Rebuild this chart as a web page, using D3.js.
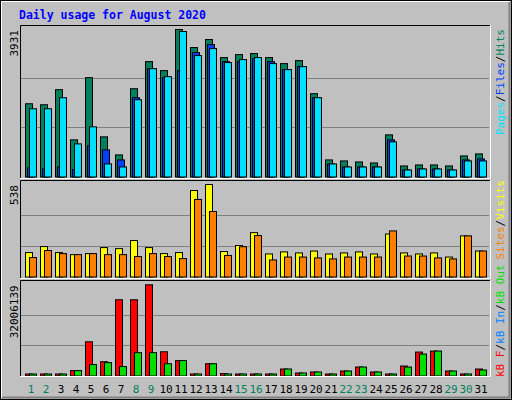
<!DOCTYPE html>
<html><head><meta charset="utf-8">
<script src="https://cdn.jsdelivr.net/npm/d3@7"></script>
<style>body{margin:0;background:#fff}svg{display:block}</style>
</head><body>
<svg id="chart" width="512" height="400"></svg>
<script>
var days = d3.range(1, 32);
var weekend = [1, 2, 8, 9, 15, 16, 22, 23, 29, 30];
var hits  = [1952,1925,2327,990,2647,1070,588,2353,3075,2835,3931,3450,3664,3182,3262,3289,3182,3022,3102,2220,455,428,401,374,1123,294,321,321,294,561,615];
var files = [240,214,267,200,829,722,455,2113,2888,2647,2835,3316,3530,3075,3075,3155,3075,2861,2941,2113,348,267,267,267,990,187,214,214,187,455,481];
var pages = [1818,1818,2113,882,1337,348,267,2059,2888,2674,3877,3236,3423,3049,3129,3182,3022,2861,2941,2113,348,267,267,267,936,187,214,214,187,428,428];
var visits = [142,177,142,130,136,171,165,212,171,136,142,503,538,148,183,258,134,146,140,151,134,140,146,134,250,140,134,140,116,239,151];
var sites  = [113,154,136,130,136,130,130,119,136,119,107,451,381,125,176,241,99,116,116,111,105,116,116,116,268,122,122,111,105,239,151];
var kbF   = [0,0,0,1.89,12.0,5.0,26.75,26.75,32.0,8.5,5.4,0,4.3,0.84,0,0.2,0.7,2.45,1.05,1.4,0,1.75,3.15,1.4,0,3.5,8.4,8.75,1.75,0.7,2.45];
var kbOut = [0,0,0,1.89,4.0,4.7,3.3,8.2,8.2,4.3,5.4,0,4.3,0.7,0,0.2,0.7,2.45,1.05,1.4,0,1.75,3.15,1.4,0,3.15,7.7,8.75,1.75,0.7,2.1];
var maxLabels = ["3931", "538", "32006139"];

var svg = d3.select("#chart");
var mono = "DejaVu Sans Mono, monospace";

// frame
svg.append("rect").attr("width", 512).attr("height", 400).attr("fill", "#c0c0c0");
svg.append("rect").attr("x", 0.5).attr("y", 0.5).attr("width", 511).attr("height", 399).attr("fill", "none").attr("stroke", "#000");
svg.append("path").attr("d", "M1.5,398V1.5H510").attr("stroke", "#fff").attr("fill", "none");
svg.append("path").attr("d", "M2,397.5H509.5V2").attr("stroke", "#808080").attr("stroke-width", 2).attr("fill", "none");

svg.append("text").attr("x", 19).attr("y", 19).attr("fill", "#0000ff")
  .attr("font-family", mono).attr("font-weight", "bold").attr("font-size", 11.5)
  .text("Daily usage for August 2020");

var x = d3.scaleBand().domain(days).range([25, 490]).paddingInner(0).align(0);
var slot = function (d) { return 25 + (d - 1) * 15; };

var panels = [
  { top: 25, bottom: 179, y0: 176.5, y1: 29, max: 3931 },
  { top: 180, bottom: 279, y0: 276.5, y1: 184, max: 538 },
  { top: 280, bottom: 377, y0: 375.5, y1: 284.3, max: 32.006139 }
];

panels.forEach(function (p, pi) {
  svg.append("rect").attr("x", 20).attr("y", p.top).attr("width", 470).attr("height", p.bottom - p.top).attr("fill", "#c0c0c0");
  p.y = d3.scaleLinear().domain([0, p.max]).range([p.y0, p.y1]);
  [p.max / 3, p.max * 2 / 3].forEach(function (v) {
    svg.append("line").attr("x1", 21).attr("x2", 489).attr("y1", Math.round(p.y(v)) + 0.5).attr("y2", Math.round(p.y(v)) + 0.5)
      .attr("stroke", "#808080");
  });
  svg.append("text").attr("transform", "translate(18," + (p.y1 + 1) + ") rotate(-90)")
    .attr("text-anchor", "end").attr("font-family", mono).attr("font-size", 11).attr("fill", "#000")
    .text(maxLabels[pi]);
});

function bars(p, data, off, color) {
  svg.append("g").selectAll("rect").data(data).enter().append("rect")
    .attr("x", function (d, i) { return slot(i + 1) + off + 0.5; })
    .attr("y", function (d) { return Math.min(p.y(d), p.y0 - 2) + 0.5; })
    .attr("width", 7)
    .attr("height", function (d) { return Math.max(p.y0 - p.y(d), 2); })
    .attr("fill", color).attr("stroke", "#000");
}

bars(panels[0], hits, 0, "#00805c");
bars(panels[0], files, 2, "#0040ff");
bars(panels[0], pages, 4, "#00e0ff");
bars(panels[1], visits, 0, "#ffff00");
bars(panels[1], sites, 4, "#ff8000");
bars(panels[2], kbF, 0, "#ff0000");
bars(panels[2], kbOut, 4, "#00e000");

// panel bevels
panels.forEach(function (p) {
  svg.append("path").attr("d", "M20.5," + (p.bottom) + "V" + (p.top + 0.5) + "H490").attr("stroke", "#000").attr("fill", "none");
  svg.append("path").attr("d", "M20," + (p.bottom - 0.5) + "H490.5V" + p.top).attr("stroke", "#fff").attr("fill", "none");
});

svg.append("g").selectAll("text").data(days).enter().append("text")
  .attr("x", function (d) { return slot(d) + 6; }).attr("y", 393)
  .attr("text-anchor", "middle").attr("font-family", mono).attr("font-size", 11)
  .attr("fill", function (d) { return weekend.indexOf(d) >= 0 ? "#00805c" : "#000"; })
  .text(function (d) { return d; });

function sideLabel(y, anchor, parts) {
  var t = svg.append("text").attr("transform", "translate(504," + y + ") rotate(-90)")
    .attr("text-anchor", anchor).attr("font-family", mono).attr("font-size", 11);
  parts.forEach(function (pt) { t.append("tspan").attr("fill", pt[1]).text(pt[0]); });
}
sideLabel(29, "end", [["Pages", "#00e0ff"], ["/", "#000"], ["Files", "#0040ff"], ["/", "#000"], ["Hits", "#00805c"]]);
sideLabel(180, "end", [["Sites", "#ff8000"], ["/", "#000"], ["Visits", "#ffff00"]]);
sideLabel(377, "start", [["kB F", "#ff0000"], ["/", "#000"], ["kB In", "#0080ff"], ["/", "#000"], ["kB Out", "#00e000"]]);
</script>
</body></html>
